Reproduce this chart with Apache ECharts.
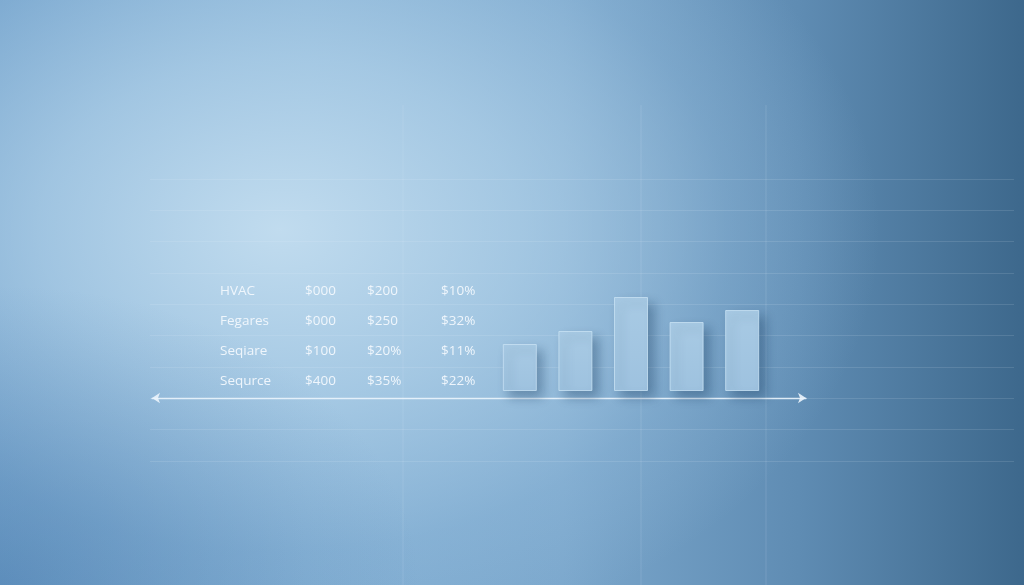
<!DOCTYPE html>
<html>
<head>
<meta charset="utf-8">
<script src="https://cdn.jsdelivr.net/npm/echarts@6/dist/echarts.min.js"></script>
<style>
html,body{margin:0;padding:0;width:1024px;height:585px;overflow:hidden;}
#chart{width:1024px;height:585px;
background:
 radial-gradient(ellipse 420px 300px at 0px 585px, rgba(70,120,170,0.45) 0%, rgba(70,120,170,0) 100%),
 radial-gradient(ellipse 600px 430px at 280px 230px, rgba(196,222,240,0.95) 0%, rgba(180,212,235,0.7) 40%, rgba(155,194,225,0.3) 75%, rgba(140,180,215,0) 100%),
 linear-gradient(90deg, #6d9dc8 0%, #80add2 30%, #7ba7cc 55%, #5f8cb3 78%, #3d688c 100%);}
</style>
</head>
<body>
<div id="chart"></div>
<script>
// ---- data ----
const categories = ['A', 'B', 'C', 'D', 'E'];
const barValues = [47, 60, 94, 69, 81];
const tableLabels = ['HVAC', 'Fegares', 'Seqiare', 'Sequrce'];
const tableCol1 = ['$000', '$000', '$100', '$400'];
const tableCol2 = ['$200', '$250', '$20%', '$35%'];
const tableCol3 = ['$10%', '$32%', '$11%', '$22%'];

// ---- layout ----
const colX = [220, 305, 367, 441];
const rowY0 = 291, rowStep = 30;
const vLinesX = [403, 641, 766];

const chart = echarts.init(document.getElementById('chart'), null, {renderer: 'canvas'});

const textStyleBase = {
  fill: 'rgba(242,248,253,0.95)',
  font: '13.5px "Open Sans", "Noto Sans", sans-serif'
};
const graphics = [];
vLinesX.forEach(x => graphics.push({
  type: 'line', z: 0, silent: true,
  shape: {x1: x, y1: 105, x2: x, y2: 585},
  style: {stroke: 'rgba(235,245,252,0.14)', lineWidth: 1}
}));
const cols = [tableLabels, tableCol1, tableCol2, tableCol3];
cols.forEach((col, ci) => col.forEach((t, ri) => graphics.push({
  type: 'text', z: 10, silent: true,
  x: colX[ci], y: rowY0 + ri * rowStep,
  style: Object.assign({text: t, textVerticalAlign: 'middle', textAlign: 'left'}, textStyleBase)
})));

chart.setOption({
  backgroundColor: 'transparent',
  animation: false,
  grid: [
    {left: 492, right: 254, top: 291, bottom: 194},   // bars
    {left: 150, right: 10, top: 179, bottom: 124},    // background grid lines
    {left: 152, right: 218, top: 100, bottom: 187}     // arrow axis
  ],
  xAxis: [
    {type: 'category', gridIndex: 0, data: categories, show: false},
    {type: 'value', gridIndex: 1, show: false, min: 0, max: 1},
    {type: 'value', gridIndex: 2, min: 0, max: 1,
      axisLine: {show: true, symbol: ['arrow', 'arrow'], symbolSize: [8, 8],
        lineStyle: {color: 'rgba(235,244,252,0.9)', width: 1.3}},
      axisTick: {show: false}, axisLabel: {show: false}, splitLine: {show: false}}
  ],
  yAxis: [
    {type: 'value', gridIndex: 0, min: 0, max: 100, show: false},
    {type: 'value', gridIndex: 1, min: 0, max: 9, interval: 1,
      axisLine: {show: false}, axisTick: {show: false}, axisLabel: {show: false},
      splitLine: {show: true, lineStyle: {color: 'rgba(235,245,252,0.12)', width: 1}}},
    {type: 'value', gridIndex: 2, show: false, min: 0, max: 1}
  ],
  graphic: graphics,
  series: [{
    type: 'bar',
    xAxisIndex: 0, yAxisIndex: 0,
    data: barValues,
    barWidth: 34,
    z: 5,
    itemStyle: {
      color: new echarts.graphic.LinearGradient(0, 0, 0, 1, [
        {offset: 0, color: '#a8cae4'},
        {offset: 1, color: '#9ec2df'}
      ]),
      borderColor: 'rgba(200,226,244,0.8)',
      borderWidth: 1,
      shadowColor: 'rgba(35,70,105,0.4)',
      shadowBlur: 10,
      shadowOffsetX: 6,
      shadowOffsetY: 6
    }
  }]
});
</script>
</body>
</html>
